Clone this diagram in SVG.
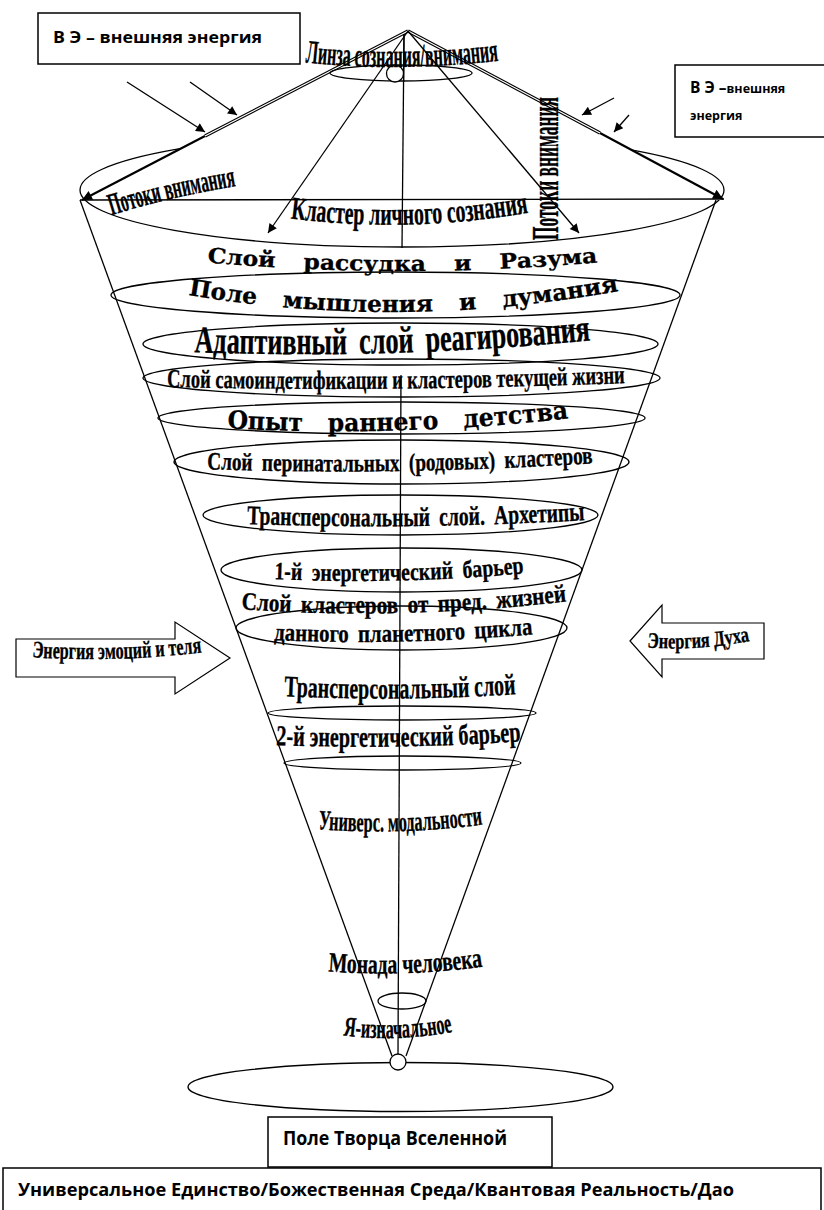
<svg xmlns="http://www.w3.org/2000/svg" width="824" height="1210" viewBox="0 0 824 1210">
<style>
.ln{stroke:#000;fill:none;stroke-width:1.3}
.el{stroke:#000;fill:none;stroke-width:1.3}
.bx{stroke:#000;fill:#fff;stroke-width:1.5}
.wa{font-family:"Liberation Serif","DejaVu Serif",serif;font-weight:bold;fill:#000;stroke:#000;stroke-width:0.35}
.wd{font-family:"DejaVu Serif","Liberation Serif",serif;font-weight:bold;fill:#000;stroke:#000;stroke-width:0.3}
.bt{font-family:"Open Sans","Liberation Sans",sans-serif;font-weight:bold;fill:#000}
</style>
<defs>
<marker id="ah" viewBox="0 0 10 10" refX="10" refY="5" markerWidth="15" markerHeight="10" markerUnits="userSpaceOnUse" orient="auto"><path d="M0,0 L10,5 L0,10 z" fill="#000"/></marker>
<marker id="as" viewBox="0 0 10 10" refX="10" refY="5" markerWidth="13" markerHeight="9" markerUnits="userSpaceOnUse" orient="auto"><path d="M0,0 L10,5 L0,10 z" fill="#000"/></marker>
<path id="p-lens" d="M300,62 Q401,73 504,60"/>
<path id="p-pl" d="M106,217 Q165,198 242,185"/>
<path id="p-kl" d="M286,218 Q410,234 533,212"/>
<path id="p-sr" d="M203,262 Q402,280 602,262"/>
<path id="p-pm" d="M183,294 Q400,332 624,290"/>
<path id="p-ad" d="M190,352 Q390,360 595,340"/>
<path id="p-ss" d="M163,387 Q396,392 629,383"/>
<path id="p-op" d="M223,428 Q395,438 573,418"/>
<path id="p-pe" d="M203,469 Q400,476 597,463"/>
<path id="p-ar" d="M243,524 Q415,530 589,520"/>
<path id="p-b1" d="M270,579 Q400,585 528,573"/>
<path id="p-sk" d="M237,609 Q400,621 571,601"/>
<path id="p-dp" d="M270,640 Q400,646 537,634"/>
<path id="p-tr" d="M280,696 Q400,702 520,694"/>
<path id="p-b2" d="M272,745 Q400,750 525,741"/>
<path id="p-un" d="M314,829 Q400,836 487,824"/>
<path id="p-mo" d="M324,971 Q405,978 487,966"/>
<path id="p-ya" d="M339,1035 Q398,1043 457,1031"/>
<path id="p-ee" d="M28,657 Q117,663 206,652"/>
<path id="p-ed" d="M643,647 Q698,652 754,640"/>
</defs>
<rect width="824" height="1210" fill="#fff"/>

<g id="top-cap">
<ellipse class="el" cx="402" cy="190" rx="322" ry="57"/>
<polygon points="408,31 80,200 724,200" fill="#fff"/>
<line class="ln" x1="80" y1="200" x2="724" y2="199"/>
</g>

<g id="cone">
<line class="ln" x1="80" y1="200" x2="392" y2="1056"/>
<line class="ln" x1="716" y1="200" x2="406" y2="1056"/>
<line class="ln" x1="404" y1="34" x2="402" y2="248"/>
<line class="ln" x1="401" y1="375" x2="398" y2="1054"/>
</g>

<g id="connectors">
<line x1="408" y1="31" x2="205" y2="136" stroke="#000" stroke-width="3.4"/>
<line x1="408" y1="31" x2="205" y2="136" stroke="#fff" stroke-width="1.2"/>
<line x1="205" y1="136" x2="82" y2="200" stroke="#000" stroke-width="2.2" marker-end="url(#ah)"/>
<line x1="408" y1="31" x2="600" y2="133" stroke="#000" stroke-width="3.4"/>
<line x1="408" y1="31" x2="600" y2="133" stroke="#fff" stroke-width="1.2"/>
<line x1="600" y1="133" x2="723" y2="199" stroke="#000" stroke-width="2.2" marker-end="url(#ah)"/>
<line class="ln" x1="408" y1="31" x2="268" y2="233" marker-end="url(#as)"/>
<line class="ln" x1="408" y1="31" x2="579" y2="233" marker-end="url(#as)"/>
<line class="ln" x1="127" y1="82" x2="205" y2="132" marker-end="url(#as)"/>
<line class="ln" x1="190" y1="82" x2="237" y2="115" marker-end="url(#as)"/>
<line class="ln" x1="614" y1="98" x2="582" y2="115" marker-end="url(#as)"/>
<line class="ln" x1="629" y1="115" x2="614" y2="132" marker-end="url(#as)"/>
</g>

<g id="lens">
<ellipse class="el" cx="401" cy="73" rx="71" ry="8"/>
<circle cx="395" cy="73.5" r="8.5" fill="#fff" stroke="#000" stroke-width="1.3"/>
<line class="ln" x1="404" y1="34" x2="403.6" y2="82"/>
<text class="wa" font-size="33" text-anchor="middle"><textPath href="#p-lens" startOffset="50%" textLength="194" lengthAdjust="spacingAndGlyphs">Линза сознания/внимания</textPath></text>
</g>

<g id="box-ve-left">
<rect class="bx" x="38" y="13" width="262" height="51"/>
<text class="bt" x="53" y="43" font-size="15.5" textLength="209" lengthAdjust="spacingAndGlyphs">В Э – внешняя энергия</text>
</g>

<g id="box-ve-right">
<rect class="bx" x="675" y="65" width="160" height="72"/>
<text class="bt" x="690" y="93"><tspan font-size="15.5">В Э –</tspan><tspan font-size="12.5">внешняя</tspan></text>
<text class="bt" x="690" y="120" font-size="12.5">энергия</text>
</g>

<g id="flows-left">
<text class="wa" font-size="31" text-anchor="middle"><textPath href="#p-pl" startOffset="50%" textLength="128" lengthAdjust="spacingAndGlyphs">Потоки внимания</textPath></text>
</g>
<g id="flows-right">
<text class="wa" font-size="38" text-anchor="middle" transform="translate(558,168.5) rotate(-90)" textLength="143" lengthAdjust="spacingAndGlyphs">Потоки внимания</text>
</g>

<g id="cluster-personal">
<text class="wa" font-size="32" text-anchor="middle"><textPath href="#p-kl" startOffset="50%" textLength="239" lengthAdjust="spacingAndGlyphs">Кластер личного сознания</textPath></text>
</g>

<g id="layer-reason">
<text class="wd" font-size="21" word-spacing="18" text-anchor="middle"><textPath href="#p-sr" startOffset="50%" textLength="391" lengthAdjust="spacingAndGlyphs">Слой рассудка и Разума</textPath></text>
</g>

<g id="layer-thinking">
<ellipse class="el" cx="395.5" cy="295" rx="284.5" ry="23"/>
<text class="wd" font-size="23" word-spacing="18" text-anchor="middle"><textPath href="#p-pm" startOffset="50%" textLength="433" lengthAdjust="spacingAndGlyphs">Поле мышления и думания</textPath></text>
</g>

<g id="layer-adaptive">
<ellipse class="el" cx="400.5" cy="344" rx="257.5" ry="21"/>
<text class="wa" font-size="38" word-spacing="8" text-anchor="middle"><textPath href="#p-ad" startOffset="50%" textLength="397" lengthAdjust="spacingAndGlyphs">Адаптивный слой реагирования</textPath></text>
</g>

<g id="layer-self">
<ellipse class="el" cx="401.5" cy="378" rx="258.5" ry="19"/>
<text class="wa" font-size="26" text-anchor="middle"><textPath href="#p-ss" startOffset="50%" textLength="458" lengthAdjust="spacingAndGlyphs">Слой самоиндетификации и кластеров текущей жизни</textPath></text>
</g>

<g id="layer-childhood">
<ellipse class="el" cx="401.5" cy="418" rx="243.5" ry="16"/>
<text class="wd" font-size="25" word-spacing="18" text-anchor="middle"><textPath href="#p-op" startOffset="50%" textLength="342" lengthAdjust="spacingAndGlyphs">Опыт раннего детства</textPath></text>
</g>

<g id="layer-perinatal">
<ellipse class="el" cx="401.5" cy="462" rx="227.5" ry="22"/>
<text class="wa" font-size="25" word-spacing="6" text-anchor="middle"><textPath href="#p-pe" startOffset="50%" textLength="386" lengthAdjust="spacingAndGlyphs">Слой перинатальных (родовых) кластеров</textPath></text>
</g>

<g id="layer-archetypes">
<ellipse class="el" cx="400.5" cy="515" rx="197.5" ry="20"/>
<text class="wa" font-size="27" word-spacing="6" text-anchor="middle"><textPath href="#p-ar" startOffset="50%" textLength="338" lengthAdjust="spacingAndGlyphs">Трансперсональный слой. Архетипы</textPath></text>
</g>

<g id="barrier-1">
<ellipse class="el" cx="401.5" cy="570" rx="180.5" ry="22"/>
<text class="wa" font-size="25" word-spacing="6" text-anchor="middle"><textPath href="#p-b1" startOffset="50%" textLength="250" lengthAdjust="spacingAndGlyphs">1-й энергетический барьер</textPath></text>
</g>

<g id="layer-past-lives">
<ellipse class="el" cx="401.5" cy="628" rx="165.5" ry="22"/>
<text class="wa" font-size="25" word-spacing="5" text-anchor="middle"><textPath href="#p-sk" startOffset="50%" textLength="326" lengthAdjust="spacingAndGlyphs">Слой кластеров от пред. жизней</textPath></text>
<text class="wa" font-size="25" word-spacing="5" text-anchor="middle"><textPath href="#p-dp" startOffset="50%" textLength="259" lengthAdjust="spacingAndGlyphs">данного планетного цикла</textPath></text>
</g>

<g id="layer-transpersonal">
<ellipse class="el" cx="402" cy="713" rx="134" ry="7"/>
<text class="wa" font-size="30" text-anchor="middle"><textPath href="#p-tr" startOffset="50%" textLength="232" lengthAdjust="spacingAndGlyphs">Трансперсональный слой</textPath></text>
</g>

<g id="barrier-2">
<ellipse class="el" cx="402.5" cy="763" rx="118.5" ry="7"/>
<text class="wa" font-size="29" text-anchor="middle"><textPath href="#p-b2" startOffset="50%" textLength="245" lengthAdjust="spacingAndGlyphs">2-й энергетический барьер</textPath></text>
</g>

<g id="universal-modalities">
<text class="wa" font-size="28" text-anchor="middle"><textPath href="#p-un" startOffset="50%" textLength="165" lengthAdjust="spacingAndGlyphs">Универс. модальности</textPath></text>
</g>

<g id="monad">
<text class="wa" font-size="28" text-anchor="middle"><textPath href="#p-mo" startOffset="50%" textLength="155" lengthAdjust="spacingAndGlyphs">Монада человека</textPath></text>
<ellipse class="el" cx="402" cy="1001" rx="24" ry="8"/>
</g>

<g id="self-original">
<text class="wa" font-size="28" text-anchor="middle"><textPath href="#p-ya" startOffset="50%" textLength="110" lengthAdjust="spacingAndGlyphs">Я-изначальное</textPath></text>
<ellipse class="el" cx="400.5" cy="1087" rx="212.5" ry="24.5"/>
<circle cx="398" cy="1062" r="8" fill="#fff" stroke="#000" stroke-width="1.3"/>
</g>

<g id="energy-emotions">
<polygon points="16,639 175,639 175,622 230,658 175,694 175,677 16,677" fill="#fff" stroke="#000" stroke-width="1.2"/>
<text class="wa" font-size="24" text-anchor="middle"><textPath href="#p-ee" startOffset="50%" textLength="170" lengthAdjust="spacingAndGlyphs">Энергия эмоций и теля</textPath></text>
</g>

<g id="energy-spirit">
<polygon points="630,641 662,605 662,623 764,623 764,659 662,659 662,677" fill="#fff" stroke="#000" stroke-width="1.2"/>
<text class="wa" font-size="22" text-anchor="middle"><textPath href="#p-ed" startOffset="50%" textLength="103" lengthAdjust="spacingAndGlyphs">Энергия Духа</textPath></text>
</g>

<g id="creator-field">
<rect class="bx" x="268" y="1117" width="284" height="50"/>
<text class="bt" x="283" y="1145" font-size="19" textLength="224" lengthAdjust="spacingAndGlyphs">Поле Творца Вселенной</text>
</g>

<g id="universal-unity">
<rect class="bx" x="3" y="1168" width="818" height="60"/>
<text class="bt" x="18" y="1196" font-size="18" textLength="716" lengthAdjust="spacingAndGlyphs">Универсальное Единство/Божественная Среда/Квантовая Реальность/Дао</text>
</g>
</svg>
